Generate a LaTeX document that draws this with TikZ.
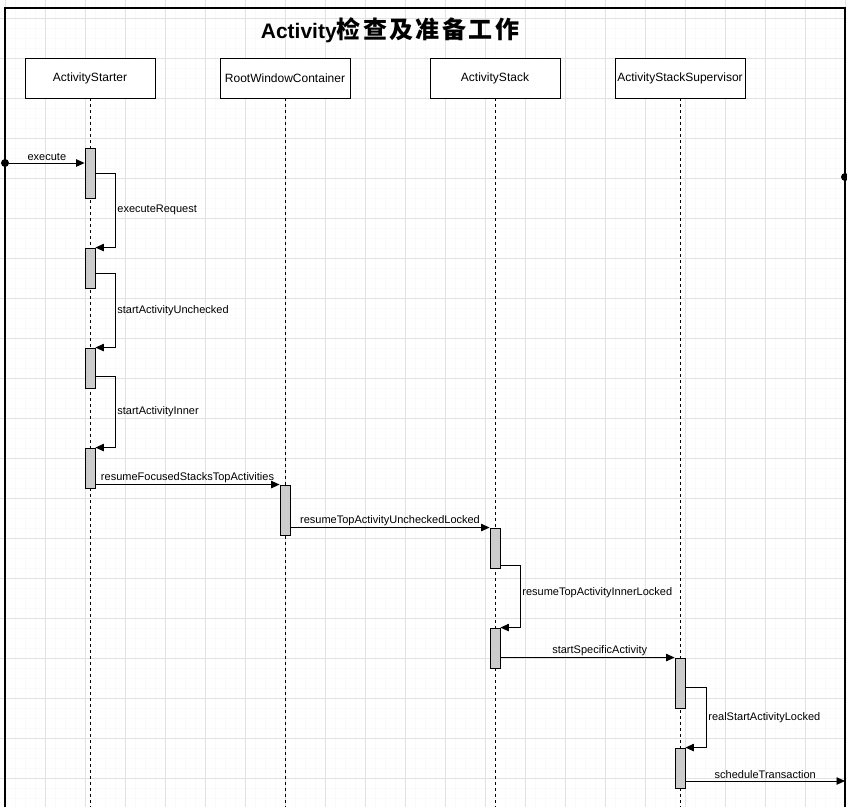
\documentclass[tikz,border=0pt]{standalone}
\usepackage{fontspec}
\setmainfont{Liberation Sans}
\newfontfamily\cjk{Noto Sans CJK SC}[LetterSpace=10]
\usetikzlibrary{arrows.meta}

\definecolor{gridmajor}{HTML}{E2E2E2}
\definecolor{gridminor}{HTML}{FAFAFA}
\definecolor{barfill}{HTML}{CCCCCC}

\begin{document}
\begin{tikzpicture}[x=1pt,y=-1pt,
  font=\fontsize{11}{13}\selectfont,
  actor/.style={draw,line width=0.9pt,fill=white,minimum width=130pt,minimum height=40pt,inner sep=0pt,font=\fontsize{12}{14}\selectfont},
  bar/.style={draw,fill=barfill,line width=0.9pt,minimum width=10pt,inner sep=0pt},
  life/.style={dash pattern=on 3pt off 3pt,line width=0.9pt},
  msg/.style={line width=0.9pt,-{Triangle[length=8.5pt,width=7.5pt]}},
  lbl/.style={inner sep=1.5pt},
  dot/.style={circle,fill,inner sep=0pt,minimum size=8pt}]
  \useasboundingbox (0,0) rectangle (847,807);
  \fill[white] (0,0) rectangle (847,807);

  % background grid
  \foreach \x in {-5,5,...,845} \draw[gridminor,line width=0.6pt] (\x,0) -- (\x,807);
  \foreach \y in {-2,8,...,808} \draw[gridminor,line width=0.6pt] (0,\y) -- (847,\y);
  \foreach \x in {5,45,...,845} \draw[gridmajor,line width=0.8pt] (\x,0) -- (\x,807);
  \foreach \y in {18,58,...,808} \draw[gridmajor,line width=0.8pt] (0,\y) -- (847,\y);
  \draw[line width=1.3pt] (5,807) |- (845,8) -- (845,807);

  \node (title) at (390,30) {\fontsize{21}{24}\selectfont\bfseries Activity{\cjk\fontsize{24}{26}\selectfont 检查及准备工作}};

  \node[actor] (starter) at (90,78)  {ActivityStarter};
  \node[actor] (root)    at (285,78) {RootWindowContainer};
  \node[actor] (stack)   at (495,78) {ActivityStack};
  \node[actor] (super)   at (680,78) {ActivityStackSupervisor};
  \foreach \a in {starter,root,stack,super}
    \draw[life] (\a.south) -- (\a.south |- 0,807);

  \node[bar,minimum height=50pt] (s1) at (90,173) {};
  \node[bar,minimum height=40pt] (s2) at (90,268) {};
  \node[bar,minimum height=40pt] (s3) at (90,368) {};
  \node[bar,minimum height=40pt] (s4) at (90,468) {};
  \node[bar,minimum height=50pt] (r1) at (285,510) {};
  \node[bar,minimum height=40pt] (k1) at (495,548) {};
  \node[bar,minimum height=40pt] (k2) at (495,648) {};
  \node[bar,minimum height=50pt] (v1) at (680,683) {};
  \node[bar,minimum height=40pt] (v2) at (680,768) {};

  \node[dot] (in) at (5,163) {};
  \node[dot] (far) at (845,177) {};
  \coordinate (out) at (845,781);

  \draw[msg] (in) -- node[lbl,above] {execute} (in -| s1.west);
  \draw[msg] (s1.east) -- ++(20,0) |- node[lbl,right,pos=0.25] {executeRequest} (s2.north east);
  \draw[msg] ([yshift=-5pt]s2.east) -- ++(20,0) |- node[lbl,right,pos=0.25] {startActivityUnchecked} (s3.north east);
  \draw[msg] ([yshift=-8pt]s3.east) -- ++(20,0) |- node[lbl,right,pos=0.25] {startActivityInner} (s4.north east);
  \draw[msg] (s4.east |- r1.north) -- node[lbl,above] {resumeFocusedStacksTopActivities} (r1.north west);
  \draw[msg] (r1.east |- k1.north) -- node[lbl,above] {resumeTopActivityUncheckedLocked} (k1.north west);
  \draw[msg] ([yshift=3pt]k1.south east) -- ++(20,0) |- node[lbl,right,pos=0.22] {resumeTopActivityInnerLocked} (k2.north east);
  \draw[msg] (k2.east |- v1.north) -- node[lbl,above,pos=0.57] {startSpecificActivity} (v1.north west);
  \draw[msg] ([yshift=-4pt]v1.east) -- ++(21,0) |- node[lbl,right,pos=0.25] {realStartActivityLocked} (v2.north east);
  \draw[msg] (v2.east |- out) -- node[lbl,above] {scheduleTransaction} (out);
\end{tikzpicture}
\end{document}
